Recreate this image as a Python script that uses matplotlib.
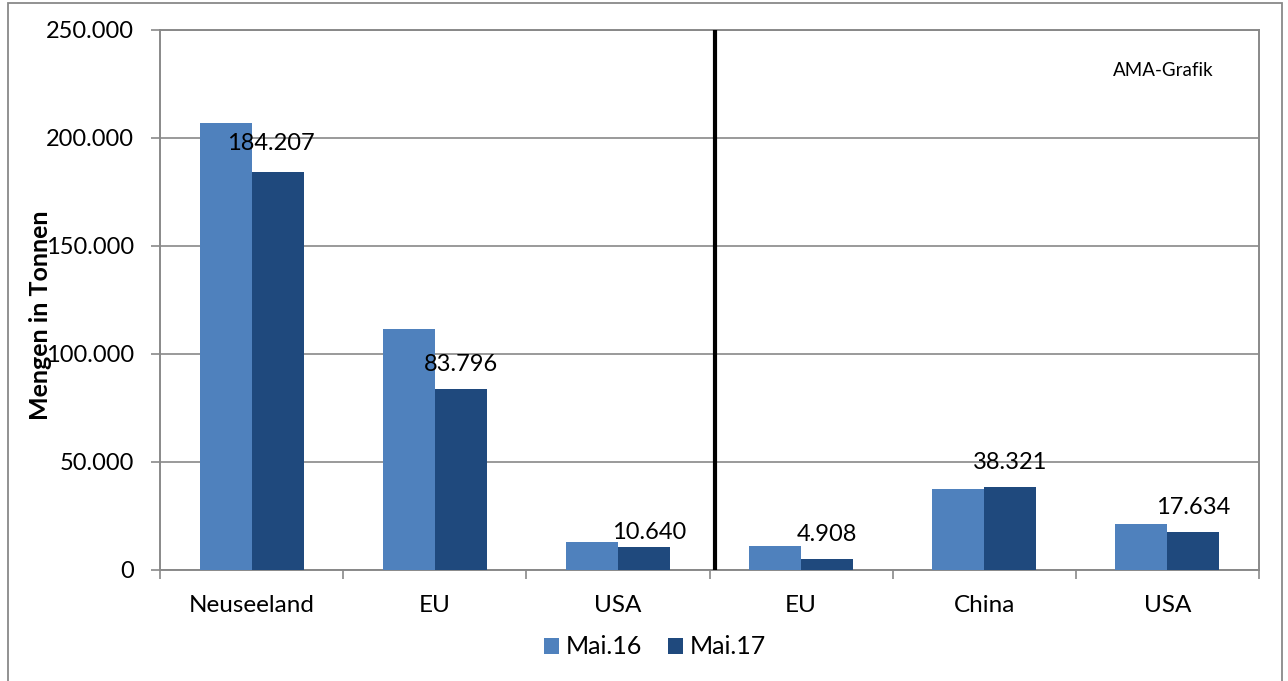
import numpy as np
import matplotlib
matplotlib.use("Agg")
import matplotlib.pyplot as plt
from matplotlib.patches import Rectangle
from matplotlib.ticker import FuncFormatter, MultipleLocator

plt.rcParams['font.family'] = ['Lato', 'DejaVu Sans']

# data
categories = ["Neuseeland", "EU", "USA", "EU", "China", "USA"]
mai16 = [207000, 111400, 13100, 11300, 37400, 21500]
mai17 = [184207, 83796, 10640, 4908, 38321, 17634]
series_names = ["Mai.16", "Mai.17"]

# label nudges (pixels), the labels were moved by hand in the original
label_dx = [-7, 0, 5, 0, 0, 0]
label_dy = [18, 14, 4, 14, 14, 14]

c16 = "#4F81BD"
c17 = "#1F497D"
grey = "#898989"

fig = plt.figure(figsize=(12.88, 6.81), dpi=100)
ax = fig.add_axes([160 / 1288, 1 - 570 / 681, (1259 - 160) / 1288, (570 - 30) / 681])

x = np.arange(len(categories))
w = 0.284
ax.bar(x - w / 2, mai16, width=w, color=c16, label=series_names[0], zorder=3)
ax.bar(x + w / 2, mai17, width=w, color=c17, label=series_names[1], zorder=3)

def fmt(v):
    return f"{int(v):,}".replace(",", ".")

for i, v in enumerate(mai17):
    ax.annotate(fmt(v), (x[i] + w / 2, v), xytext=(label_dx[i], label_dy[i]),
                textcoords="offset pixels", ha="center", va="bottom",
                fontsize=17, zorder=5)

ax.set_xlim(-0.5, len(categories) - 0.5)
ax.set_ylim(0, 250000)
ax.yaxis.set_major_locator(MultipleLocator(50000))
ax.yaxis.set_major_formatter(FuncFormatter(lambda v, p: fmt(v)))
ax.grid(axis="y", color=grey, linewidth=1.2, zorder=0)

ax.set_xticks(x)
ax.set_xticklabels(categories)
ax.set_xticks(np.arange(-0.5, len(categories)), minor=True)
ax.tick_params(axis="x", which="major", length=0, pad=18, labelsize=17.5)
ax.tick_params(axis="x", which="minor", length=6.5, width=1.2, color=grey)
ax.tick_params(axis="y", length=6.5, width=1.2, color=grey, pad=12, labelsize=17)

for s in ax.spines.values():
    s.set_color(grey)
    s.set_linewidth(1.4)

# separator between export and import blocks
ax.axvline(2.53, color="black", linewidth=3, zorder=4)

fig.text(41 / 1288, 1 - 315 / 681, "Mengen in Tonnen", rotation=90,
         ha="center", va="center", fontsize=18, fontweight="bold")
fig.text(1163 / 1288, 1 - 70 / 681, "AMA-Grafik", ha="center", va="center",
         fontsize=13.5)

fig.legend(loc="center", bbox_to_anchor=(655 / 1288, 1 - 647 / 681),
           ncol=2, frameon=False, fontsize=18, handlelength=0.6,
           handleheight=0.6, handletextpad=0.3, columnspacing=1.0)

# outer chart frame
fig.patches.append(Rectangle((8 / 1288, -0.05), (1282 - 8) / 1288, 1.05 - 3 / 681,
                             transform=fig.transFigure, fill=False,
                             edgecolor=grey, linewidth=1.3))

fig.savefig("out.png", dpi=100)
